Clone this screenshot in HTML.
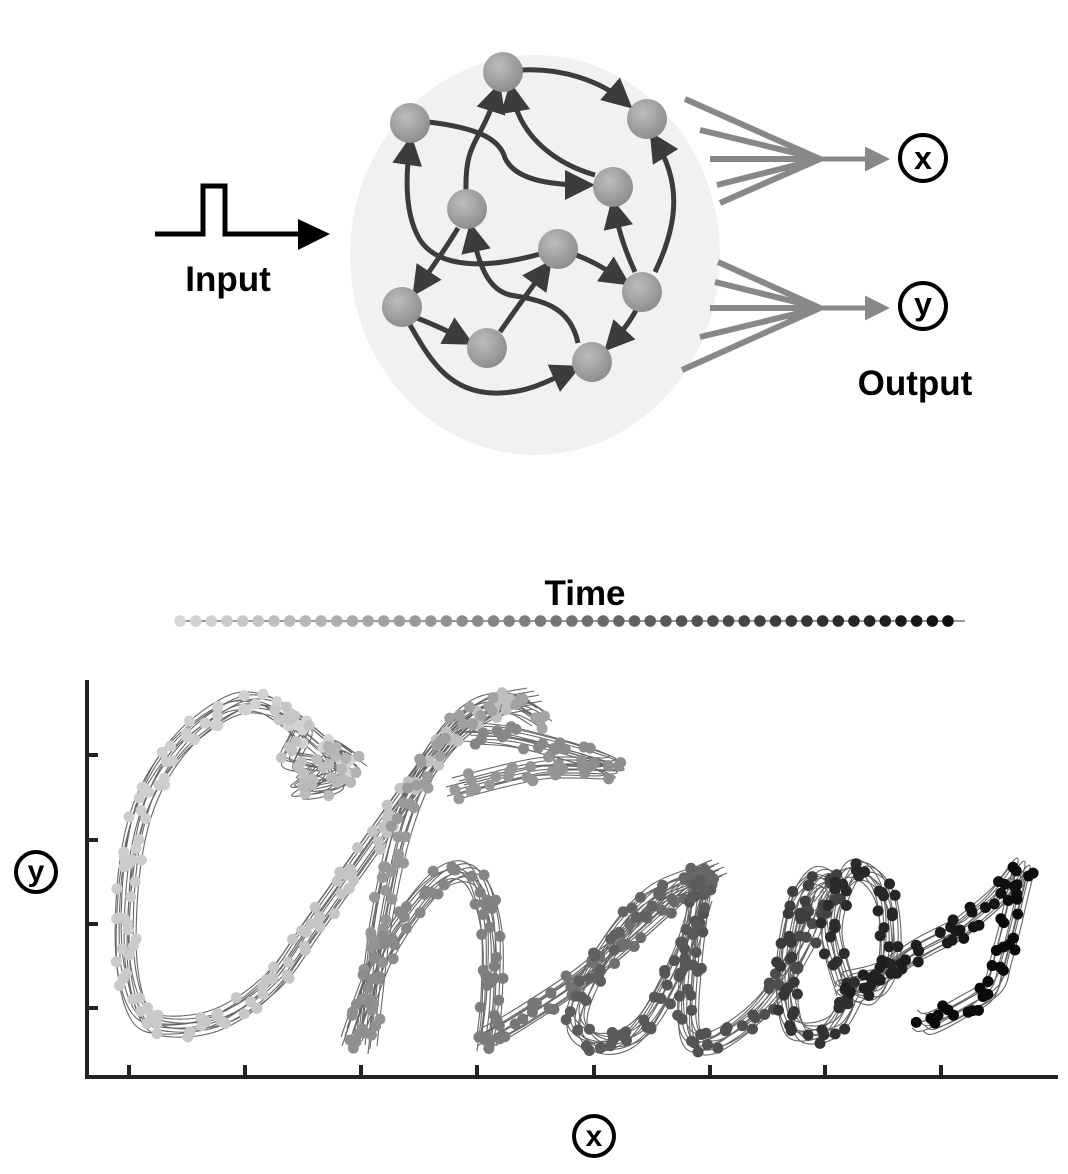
<!DOCTYPE html>
<html><head><meta charset="utf-8"><style>
html,body{margin:0;padding:0;background:#fff;}
svg{display:block;font-family:"Liberation Sans",sans-serif;}
</style></head><body>
<svg id="fig" width="1068" height="1174" viewBox="0 0 1068 1174">
<defs>
<radialGradient id="ng" cx="40%" cy="35%" r="70%"><stop offset="0" stop-color="#bdbdbd"/><stop offset="1" stop-color="#8a8a8a"/></radialGradient>
<marker id="ah" markerWidth="6" markerHeight="6" refX="4" refY="3" orient="auto" markerUnits="strokeWidth"><path d="M0,0 L6,3 L0,6 z" fill="#3c3c3c"/></marker>
<marker id="ag" markerWidth="5" markerHeight="5" refX="3" refY="2.5" orient="auto" markerUnits="strokeWidth"><path d="M0,0 L5,2.5 L0,5 z" fill="#888"/></marker>
</defs>
<g id="top">
<ellipse cx="535" cy="255" rx="185" ry="200" fill="#f1f1f1"/>
<g fill="none" stroke="#3c3c3c" stroke-width="5" marker-end="url(#ah)">
<path d="M522,70 C560,68 600,80 625,102"/>
<path d="M428,122 C480,128 500,140 505,158 C515,180 550,185 585,185"/>
<path d="M466,190 C465,140 480,145 497,92"/>
<path d="M595,175 C560,165 520,140 512,92"/>
<path d="M655,272 C680,220 680,180 655,140"/>
<path d="M635,272 C625,250 620,235 614,208"/>
<path d="M576,255 C595,262 610,272 622,280"/>
<path d="M636,310 C630,322 622,332 611,344"/>
<path d="M458,228 C445,250 430,270 418,288"/>
<path d="M540,254 C490,268 440,270 420,240 C405,215 405,180 410,145"/>
<path d="M578,343 C570,305 540,300 510,295 C490,290 480,270 472,232"/>
<path d="M417,318 C435,325 450,332 465,340"/>
<path d="M500,332 C515,310 530,290 546,268"/>
<path d="M410,325 C430,360 450,395 500,393 C530,392 550,380 572,370"/>
</g>
<g fill="url(#ng)">
<circle cx="503" cy="72" r="20"/><circle cx="410" cy="123" r="20"/><circle cx="647" cy="119" r="20"/>
<circle cx="613" cy="187" r="20"/><circle cx="467" cy="209" r="20"/><circle cx="558" cy="249" r="20"/>
<circle cx="642" cy="292" r="20"/><circle cx="402" cy="307" r="20"/><circle cx="487" cy="348" r="20"/><circle cx="592" cy="362" r="20"/>
</g>
<g stroke="#888" stroke-width="6" fill="none">
<path d="M685,99 L820,159 M700,130 L820,159 M710,159 L820,159 M717,185 L820,159 M720,203 L820,159"/>
<path d="M820,159 L880,159" stroke-width="5" marker-end="url(#ag)"/>
</g>
<g stroke="#888" stroke-width="6" fill="none">
<path d="M718,262 L820,308 M715,282 L820,308 M710,308 L820,308 M700,337 L820,308 M682,370 L820,308"/>
<path d="M820,308 L880,308" stroke-width="5" marker-end="url(#ag)"/>
</g>
<circle cx="923" cy="158" r="23" fill="#fff" stroke="#000" stroke-width="4"/>
<text x="923" y="169" text-anchor="middle" font-size="32" font-weight="bold">x</text>
<circle cx="923" cy="306" r="23" fill="#fff" stroke="#000" stroke-width="4"/>
<text x="923" y="315" text-anchor="middle" font-size="32" font-weight="bold">y</text>
<text x="915" y="395" text-anchor="middle" font-size="35" font-weight="bold">Output</text>
<path d="M155,234 L203,234 L203,186 L225,186 L225,234 L300,234" fill="none" stroke="#000" stroke-width="5"/>
<path d="M298,219 L330,234 L298,250 z" fill="#000"/>
<text x="228" y="291" text-anchor="middle" font-size="35" font-weight="bold">Input</text>
</g>
<text x="585" y="605" text-anchor="middle" font-size="35" font-weight="bold">Time</text>
<g id="timebar"></g>
<g id="chart"></g>
<circle cx="36" cy="872" r="20" fill="#fff" stroke="#000" stroke-width="4"/>
<text x="36" y="881" text-anchor="middle" font-size="30" font-weight="bold">y</text>
<circle cx="594" cy="1136" r="20" fill="#fff" stroke="#000" stroke-width="4"/>
<text x="594" y="1146" text-anchor="middle" font-size="30" font-weight="bold">x</text>
</svg>
<script>
var xTicks=[42,158,274,390,507,623,738,854];
var yTicks=[69,153,237,322];
var strokeC=[[258,312],[233,332],[203,357],[178,371],[143,369],[93,332],[58,277],[41,207],[38,117],[53,62],[83,49],[133,57],[183,92],[223,147],[273,217],[323,287],[363,337],[403,367],[443,377]];
var strokeScribble=[[188,367],[213,347],[203,317],[233,307],[213,287],[253,297],[243,327],[268,312]];
var strokeH1=[[453,357],[423,372],[383,362],[343,317],[313,247],[293,157],[283,77],[278,32]];
var strokeFlag=[[368,287],[453,307],[525,309],[433,337],[383,342]];
var strokeH2=[[263,37],[293,117],[333,177],[363,202],[388,197],[403,147],[403,77],[398,32]];
var strokeLink=[[398,37],[433,57],[493,97],[553,147],[603,192],[628,205]];
var strokeA1=[[623,202],[563,177],[513,117],[488,57],[513,32],[553,47],[593,117],[613,177]];
var strokeA2=[[613,197],[603,117],[601,47],[623,32],[673,67],[713,127],[733,177]];
var strokeE=[[736,172],[748,192],[728,197],[708,167],[698,97],[708,47],[743,47],[763,77]];
var strokeO=[[758,87],[743,147],[758,197],[778,204],[798,177],[801,117],[783,82],[758,92],[793,102],[833,127],[873,147]];
var strokeS=[[873,147],[908,177],[933,207],[928,177],[913,117],[903,87],[873,67],[843,52],[833,55]];
var strokes=[strokeC,strokeScribble,strokeH1,strokeFlag,strokeH2,strokeLink,strokeA1,strokeA2,strokeE,strokeO,strokeS];
var strokeTime=[0.02,0.08,0.25,0.3,0.35,0.45,0.55,0.6,0.72,0.82,0.95];
var timeSteps=50;
var NS='http://www.w3.org/2000/svg';
function X(v){return 87+v;}
function Y(v){return 1077-v;}
function mk(t,a,p){var e=document.createElementNS(NS,t);for(var k in a)e.setAttribute(k,a[k]);p.appendChild(e);return e;}
var chart=document.getElementById('chart');
var tb=document.getElementById('timebar');
var tl=mk('line',{x1:178,y1:621,x2:965,y2:621,stroke:'#333','stroke-width':1},tb);


for(var i=0;i<timeSteps;i++){var g=Math.round(215-200*i/(timeSteps-1));
var d=mk('circle',{cx:180+i*(768/(timeSteps-1)),cy:621,r:5.8,fill:'rgb('+g+','+g+','+g+')'},tb);

}
var ax=mk('path',{d:'M'+X(0)+','+Y(397)+' L'+X(0)+','+Y(0)+' L'+X(971)+','+Y(0),fill:'none',stroke:'#222','stroke-width':4},chart);


xTicks.forEach(function(v){var t=mk('line',{x1:X(v),x2:X(v),y1:Y(0),y2:Y(12),stroke:'#222','stroke-width':4},chart);

});
yTicks.forEach(function(v){var t=mk('line',{x1:X(0),x2:X(11),y1:Y(v),y2:Y(v),stroke:'#222','stroke-width':4},chart);

});
var offs=[[0,0],[5,-4],[-5,4],[9,5],[-8,-6],[4,9],[-9,3],[3,-9],[12,-1],[-3,12]];
function crPath(pts){var s='M'+pts[0][0]+','+pts[0][1];
for(var i=0;i<pts.length-1;i++){var p0=pts[Math.max(0,i-1)],p1=pts[i],p2=pts[i+1],p3=pts[Math.min(pts.length-1,i+2)];
s+=' C'+(p1[0]+(p2[0]-p0[0])/6)+','+(p1[1]+(p2[1]-p0[1])/6)+' '+(p2[0]-(p3[0]-p1[0])/6)+','+(p2[1]-(p3[1]-p1[1])/6)+' '+p2[0]+','+p2[1];}return s;}
var lines=mk('g',{},chart);


var dots=mk('g',{},chart);


strokes.forEach(function(st,si){
offs.forEach(function(o,oi){
var pts=st.map(function(p){return [X(p[0]+o[0]),Y(p[1]+o[1])];});
var pe=mk('path',{d:crPath(pts),fill:'none',stroke:'#666','stroke-width':1.1},lines);


var L=pe.getTotalLength();var step=55+oi*3;
for(var s=(oi*11)%step;s<L;s+=step){var q=pe.getPointAtLength(s);
var t=Math.min(1,strokeTime[si]+0.1*s/L);var g=Math.round(215-205*t);
var c=mk('circle',{cx:q.x,cy:q.y,r:5.5,fill:'rgb('+g+','+g+','+g+')'},dots);

}
});});
</script>
</body></html>
